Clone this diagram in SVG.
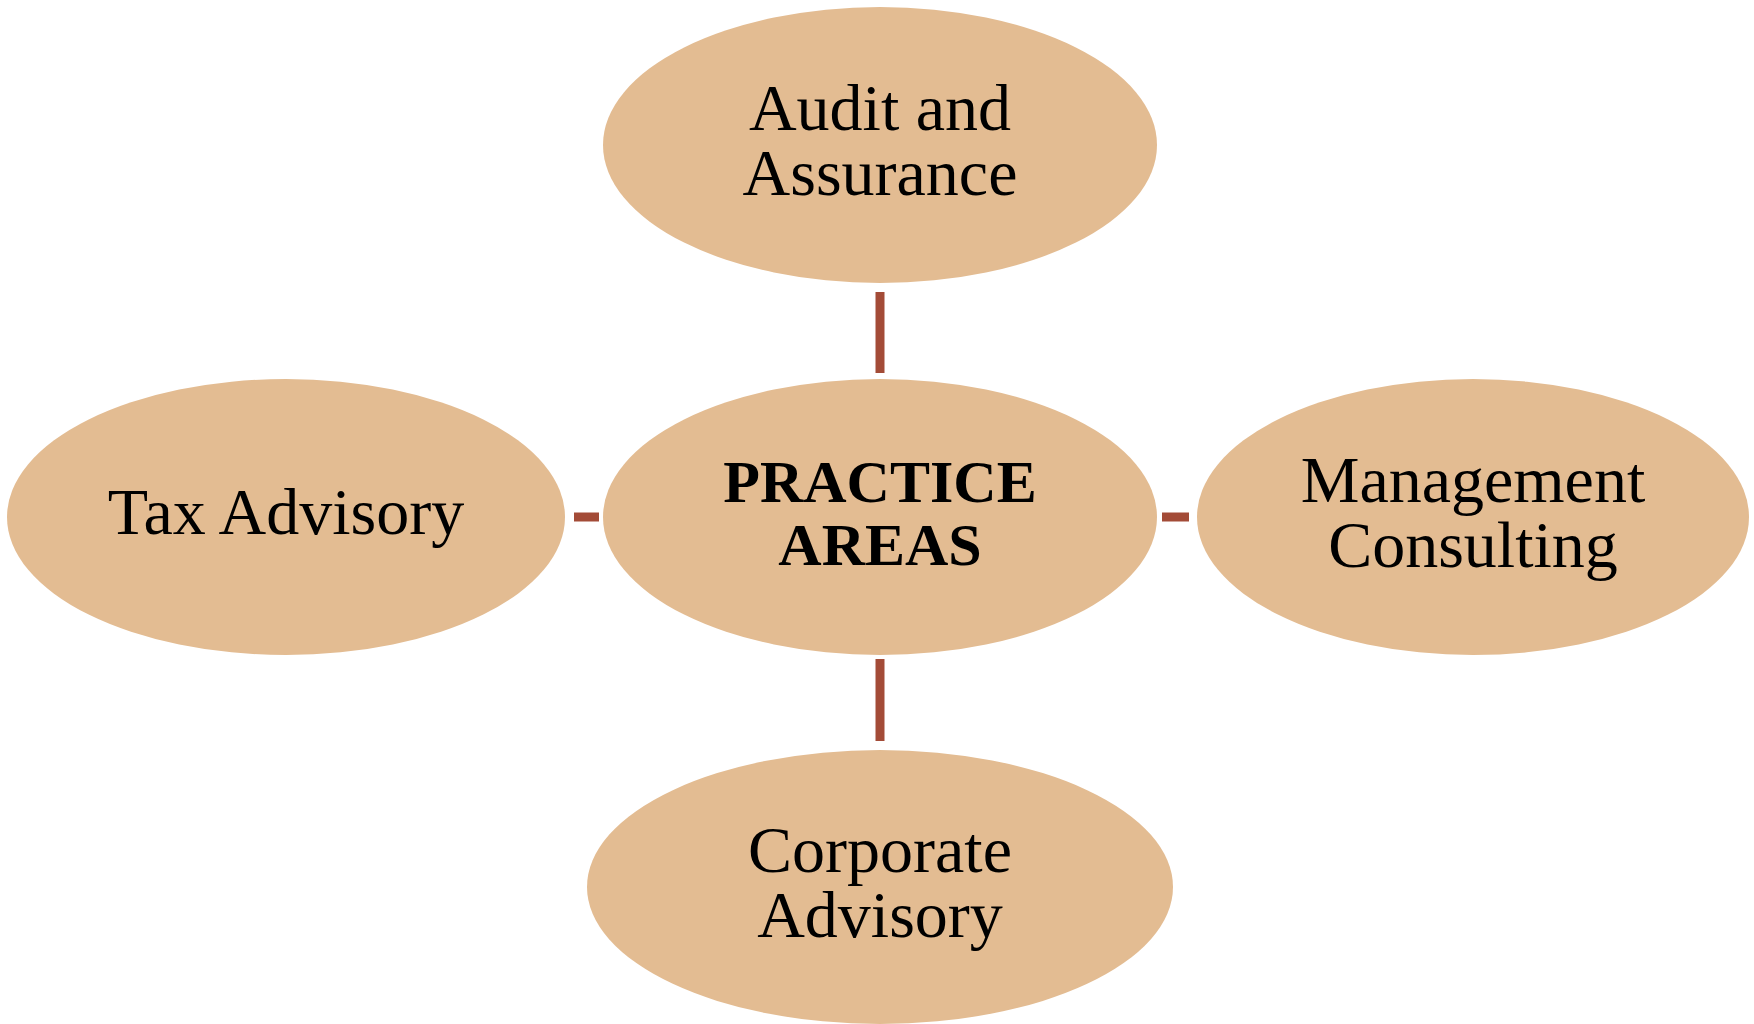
<svg xmlns="http://www.w3.org/2000/svg" width="1754" height="1024" viewBox="0 0 1754 1024">
<style>
.node{fill:#E3BC92;}
.lbl{font-family:"Liberation Serif","Times New Roman",serif;font-size:66px;fill:#000;text-anchor:middle;}
.bold{font-weight:bold;font-size:60px;}
.conn{stroke:#A34B37;stroke-width:9;fill:none;}
</style>
<rect width="1754" height="1024" fill="#FFFFFF"/>
<g id="connectors">
<line class="conn" x1="880" y1="292" x2="880" y2="373"/>
<line class="conn" x1="880" y1="659" x2="880" y2="741"/>
<line class="conn" x1="574" y1="517" x2="599" y2="517"/>
<line class="conn" x1="1162" y1="517" x2="1189" y2="517"/>
</g>
<g id="node-audit">
<ellipse class="node" cx="880" cy="145" rx="277" ry="138"/>
<text class="lbl" x="880" y="130">Audit and</text>
<text class="lbl" x="880" y="195">Assurance</text>
</g>
<g id="node-center">
<ellipse class="node" cx="880" cy="517" rx="277" ry="138"/>
<text class="lbl bold" x="880" y="502">PRACTICE</text>
<text class="lbl bold" x="880" y="565">AREAS</text>
</g>
<g id="node-tax">
<ellipse class="node" cx="286" cy="517" rx="279" ry="138"/>
<text class="lbl" x="286" y="534">Tax Advisory</text>
</g>
<g id="node-management">
<ellipse class="node" cx="1473" cy="517" rx="276" ry="138"/>
<text class="lbl" x="1473" y="502">Management</text>
<text class="lbl" x="1473" y="567">Consulting</text>
</g>
<g id="node-corporate">
<ellipse class="node" cx="880" cy="887" rx="293" ry="137"/>
<text class="lbl" x="880" y="872">Corporate</text>
<text class="lbl" x="880" y="937">Advisory</text>
</g>
</svg>
